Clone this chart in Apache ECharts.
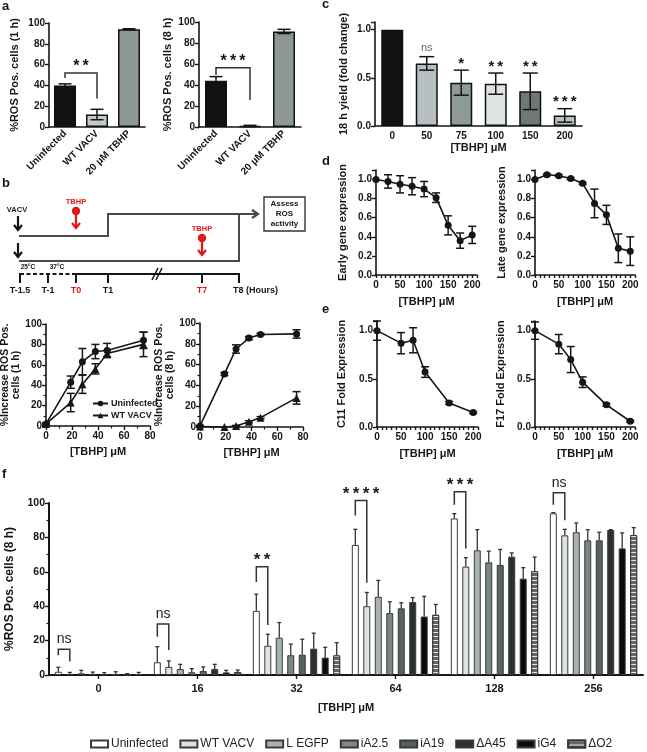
<!DOCTYPE html>
<html>
<head>
<meta charset="utf-8">
<script src="https://cdn.jsdelivr.net/npm/echarts@6/dist/echarts.min.js"></script>
<style>
  html, body { margin: 0; padding: 0; background: #fff; }
  #fig { width: 647px; height: 752px; }
</style>
</head>
<body>
<div id="fig"></div>
<script>
// ---- panel a: ROS positive cells at 1 h / 8 h ----
const aCats = ['Uninfected', 'WT VACV', '20 μM TBHP']
const a1Vals = [40, 12, 94]
const a1Err = [1.5, 5, 0.5]
const a2Vals = [44, 1, 91]
const a2Err = [4, 0.6, 2]
const aColors = ['#111111', '#c3cbcd', '#8d9896']
// bracket rows: [left cat, right cat, top, left leg end, right leg end]
const a1Bracket = [[0, 1, 52, 47, 27.5]]
const a2Bracket = [[0, 1, 56.5, 49.5, 25.7]]
const a1Sig = ['**']
const a2Sig = ['***']

// ---- panel c: 18 h yield ----
const cCats = ['0', '50', '75', '100', '150', '200']
const cVals = [1.0, 0.65, 0.45, 0.44, 0.36, 0.11]
const cErr = [0, 0.07, 0.13, 0.11, 0.19, 0.07]
const cSig = ['', 'ns', '*', '**', '**', '***']
const cColors = ['#111111', '#b6c0c4', '#8e9a98', '#dee4e4', '#6e7977', '#b7c2c7']

// ---- panel b: % increase ROS vs dose ----
const bDose = [0, 19, 28, 38, 47, 75]
const b1Uninf = [2, 43, 63, 73, 74, 84]
const b1UninfErr = [1, 6, 13, 7, 7, 8]
const b1Wt = [2, 23, 41, 56, 71, 80]
const b1WtErr = [1, 9, 9, 5, 3, 12]
const b8Uninf = [1, 51, 75, 85.5, 89, 89.5]
const b8UninfErr = [0.5, 1.5, 4, 1.5, 1, 4]
const b8Wt = [0.5, 0, 1, 5, 9, 28]
const b8WtErr = [0, 0, 0.5, 1, 1, 6]

// ---- panel d: early / late gene expression ----
const dDose = [0, 25, 50, 75, 100, 125, 150, 175, 200]
const dEarly = [1.0, 0.98, 0.95, 0.93, 0.90, 0.81, 0.52, 0.36, 0.42]
const dEarlyErr = [0, 0.07, 0.09, 0.09, 0.08, 0.05, 0.1, 0.08, 0.09]
const dLate = [1.0, 1.05, 1.04, 1.01, 0.96, 0.75, 0.63, 0.28, 0.25]
const dLateErr = [0, 0.01, 0.01, 0.01, 0.01, 0.15, 0.1, 0.15, 0.15]

// ---- panel e: C11 / F17 fold expression ----
const eDose = [0, 50, 75, 100, 150, 200]
const eC11 = [1.0, 0.87, 0.9, 0.57, 0.25, 0.15]
const eC11Err = [0.1, 0.11, 0.13, 0.055, 0.015, 0.01]
const eF17 = [1.0, 0.86, 0.7, 0.465, 0.23, 0.06]
const eF17Err = [0.09, 0.1, 0.135, 0.055, 0.015, 0.01]

// ---- panel f: ROS positive cells at 8 h per virus ----
const fCats = ['0', '16', '32', '64', '128', '256']
const fNames = ['Uninfected', 'WT VACV', 'L EGFP', 'iA2.5', 'iA19', 'ΔA45', 'iG4', 'ΔO2']
const fVals = [
  [1.9, 7.4, 37.3, 75.6, 91, 94],
  [0.5, 4.7, 17, 40, 63, 81.2],
  [1, 3.5, 21.7, 45.5, 72.5, 83],
  [0.6, 1.6, 11.5, 36, 65.5, 78.3],
  [0.4, 2.3, 11.8, 38.8, 64, 78.3],
  [0.3, 3.5, 15.3, 42.4, 68.8, 84.3],
  [0.2, 1.5, 10.1, 34, 56, 73.6],
  [0.5, 1.7, 11.4, 35, 60.3, 81.4]
]
const fErr = [
  [2.6, 9.1, 9.7, 9.1, 2.8, 0.4],
  [1, 3.5, 6.7, 8, 5.2, 3.5],
  [1.7, 2.7, 8.8, 9.5, 12, 5.4],
  [1.1, 2.1, 6.5, 6.6, 6.5, 6.2],
  [1, 2.4, 9, 3.2, 9, 4.7],
  [1.6, 2.7, 9, 2.6, 2.2, 0.2],
  [0.6, 1.2, 6, 11.7, 6.4, 9],
  [1, 1.2, 7.4, 6, 8.3, 4.3]
]
const fColors = ['#ffffff', '#dde3e3', '#a7b2b4', '#7b8786', '#586361', '#2b3131', '#0b0b0b', '#5d6867']
// [cat, cat, top, uninfected leg end, WT leg end]
const fBrackets = [
  [0, 0, 15, 11.5, 7.8],
  [1, 1, 29.7, 22.3, 14.6],
  [2, 2, 63, 54, 29],
  [3, 3, 101.5, 92.8, 53.7],
  [4, 4, 106.6, 99, 73.6],
  [5, 5, 106, 99, 90]
]
const fSig = ['ns', 'ns', '**', '****', '***', 'ns']

// ---- styling helpers ----
const FONT = '"Liberation Sans", Arial, Helvetica, sans-serif'
const INK = '#161616'
const RED = '#e3161b'
const W = 7
const GAP = 0.64
const PITCH = W * (1 + GAP)
const SPAN = PITCH * fNames.length - W * GAP
function barCenter(i) { return -SPAN / 2 + i * PITCH + W / 2 }

function stars(s) { return s.indexOf('*') >= 0 ? s.split('').join('\u2009') : s }
function stepFmt(step, digits) {
  return v => Math.abs(v / step - Math.round(v / step)) < 1e-6 ? v.toFixed(digits) : ''
}
function axLine() { return { show: true, lineStyle: { color: INK, width: 1.6 } } }
function axTick(len) { return { show: true, length: len || 4, lineStyle: { color: INK, width: 1.4 } } }
function lab(size, extra) {
  return Object.assign({ color: INK, fontFamily: FONT, fontWeight: 'bold', fontSize: size || 10, margin: 4 }, extra || {})
}
function nameTS(size, lh) {
  return { color: INK, fontFamily: FONT, fontWeight: 'bold', fontSize: size || 11, lineHeight: lh || 13 }
}

function valAx(grid, min, max, step, label, name, gap, more) {
  return Object.assign({
    type: 'value', gridIndex: grid, min: min, max: max, interval: step,
    splitLine: { show: false }, axisLine: axLine(), axisTick: axTick(4),
    axisLabel: label, name: name, nameLocation: 'middle', nameGap: gap, nameTextStyle: nameTS(11)
  }, more || {})
}
function catAx(grid, cats, label, name, gap, more) {
  return Object.assign({
    type: 'category', gridIndex: grid, data: cats,
    axisLine: axLine(), axisTick: { show: false }, axisLabel: label,
    name: name, nameLocation: 'middle', nameGap: gap, nameTextStyle: nameTS(11)
  }, more || {})
}

function errorBars(axis, rows, cap, opts) {
  opts = opts || {}
  return {
    type: 'custom', xAxisIndex: axis, yAxisIndex: axis, clip: false, silent: true, z: opts.z || 5,
    data: rows, encode: { x: 0, y: 1 },
    renderItem(params, api) {
      const x = api.value(0), y = api.value(1), e = api.value(2)
      const kids = []
      const top = api.coord([x, y + e]), bot = api.coord([x, opts.up ? y : y - e])
      const cx = top[0] + (opts.offset || 0)
      const st = { stroke: opts.color || INK, lineWidth: opts.width || 1.5 }
      if (e > 0) {
        kids.push({ type: 'line', shape: { x1: cx, y1: top[1], x2: cx, y2: bot[1] }, style: st })
        kids.push({ type: 'line', shape: { x1: cx - cap / 2, y1: top[1], x2: cx + cap / 2, y2: top[1] }, style: st })
        if (!opts.up) kids.push({ type: 'line', shape: { x1: cx - cap / 2, y1: bot[1], x2: cx + cap / 2, y2: bot[1] }, style: st })
      }
      const t = opts.labels ? opts.labels[params.dataIndex] : ''
      if (t) {
        const isNs = t === 'ns'
        kids.push({
          type: 'text', x: cx, y: top[1] - (isNs ? 3 : -1),
          style: {
            text: stars(t), align: 'center', verticalAlign: 'bottom', fontFamily: FONT,
            fontSize: isNs ? 11 : 15, fontWeight: isNs ? 'normal' : 'bold', fill: isNs ? '#666' : INK
          }
        })
      }
      return { type: 'group', children: kids }
    }
  }
}

function brackets(axis, rows, labels, opts) {
  opts = opts || {}
  return {
    type: 'custom', xAxisIndex: axis, yAxisIndex: axis, clip: false, silent: true, z: 6,
    data: rows, encode: { x: 0, y: 2 },
    renderItem(params, api) {
      const a = api.coord([api.value(0), api.value(2)])
      const b = api.coord([api.value(1), api.value(2)])
      const xl = a[0] + (opts.offL || 0), xr = b[0] + (opts.offR || 0)
      const yl = api.coord([api.value(0), api.value(3)])[1]
      const yr = api.coord([api.value(1), api.value(4)])[1]
      const t = labels[params.dataIndex]
      const isNs = t === 'ns'
      return {
        type: 'group', children: [
          { type: 'polyline', shape: { points: [[xl, yl], [xl, a[1]], [xr, a[1]], [xr, yr]] },
            style: { stroke: '#333', lineWidth: 1.5, fill: null } },
          { type: 'text', x: (xl + xr) / 2, y: a[1] - (isNs ? 3 : -2),
            style: { text: stars(t), align: 'center', verticalAlign: 'bottom', fontFamily: FONT,
              fontSize: isNs ? (opts.nsSize || 14) : (opts.starSize || 16),
              fontWeight: isNs ? 'normal' : 'bold', fill: '#1a1a1a' } }
        ]
      }
    }
  }
}

function rows(xs, ys, es) { return xs.map((x, i) => [x, ys[i], es[i]]) }
function pts(xs, ys) { return xs.map((x, i) => [x, ys[i]]) }
function lineSeries(axis, name, data, symbol) {
  return {
    type: 'line', name: name, xAxisIndex: axis, yAxisIndex: axis, data: data,
    symbol: symbol || 'circle', symbolSize: symbol === 'triangle' ? 8 : 7,
    itemStyle: { color: INK }, lineStyle: { color: INK, width: 1.6 }, z: 4, clip: false
  }
}

// ---- grids ----
const grids = [
  { left: 49, top: 23, width: 96, height: 104 },   // 0 a 1 h
  { left: 199, top: 22, width: 102, height: 105 },  // 1 a 8 h
  { left: 375, top: 22, width: 207, height: 104 },  // 2 c
  { left: 46, top: 324, width: 104, height: 102 },  // 3 b 1 h
  { left: 200, top: 323, width: 103, height: 104 }, // 4 b 8 h
  { left: 376, top: 170, width: 101, height: 105 }, // 5 d early
  { left: 535, top: 170, width: 100, height: 105 }, // 6 d late
  { left: 377, top: 321, width: 101, height: 106 }, // 7 e C11
  { left: 535, top: 321, width: 100, height: 106 }, // 8 e F17
  { left: 49, top: 503, width: 594, height: 172 }   // 9 f
].map(g => Object.assign({ outerBoundsMode: 'none', containLabel: false }, g))

const doseX = (grid) => valAx(grid, 0, 210, 10, lab(10, { margin: 5, formatter: stepFmt(50, 0) }),
  '[TBHP] μM', 20, { axisTick: axTick(3) })
const minor2 = { show: true, splitNumber: 2, length: 2.5, lineStyle: { color: INK, width: 1.2 } }

const xAxis = [
  catAx(0, aCats, lab(10, { rotate: 45, interval: 0, margin: 5 }), '', 0),
  catAx(1, aCats, lab(10, { rotate: 45, interval: 0, margin: 5 }), '', 0),
  catAx(2, cCats, lab(10, { margin: 5 }), '[TBHP] μM', 15),
  valAx(3, 0, 80, 20, lab(10, { margin: 5 }), '[TBHP] μM', 19, { minorTick: minor2 }),
  valAx(4, 0, 80, 20, lab(10, { margin: 5 }), '[TBHP] μM', 19, { minorTick: minor2 }),
  doseX(5), doseX(6), doseX(7), doseX(8),
  catAx(9, fCats, lab(11, { margin: 8 }), '[TBHP] μM', 26,
    { axisTick: { show: true, alignWithLabel: true, length: 4, lineStyle: { color: INK, width: 1.4 } },
      axisLine: { show: true, lineStyle: { color: INK, width: 2 } } })
]

const yAxis = [
  valAx(0, 0, 100, 20, lab(10), '%ROS Pos. cells (1 h)', 28),
  valAx(1, 0, 100, 20, lab(10), '%ROS Pos. cells (8 h)', 24),
  valAx(2, 0, 1.08, 0.5, lab(10, { formatter: stepFmt(0.5, 1) }), '18 h yield (fold change)', 25),
  valAx(3, 0, 100, 20, lab(10), '%Increase ROS Pos.\ncells (1 h)', 13, { minorTick: minor2, nameTextStyle: nameTS(10.5, 11) }),
  valAx(4, 0, 100, 20, lab(10), '%Increase ROS Pos.\ncells (8 h)', 9, { minorTick: minor2, nameTextStyle: nameTS(10.5, 11) }),
  valAx(5, 0, 1.1, 0.2, lab(10, { formatter: stepFmt(0.2, 1) }), 'Early gene expression', 27),
  valAx(6, 0, 1.1, 0.2, lab(10, { formatter: stepFmt(0.2, 1) }), 'Late gene expression', 27),
  valAx(7, 0, 1.1, 0.5, lab(10, { formatter: stepFmt(0.5, 1) }), 'C11 Fold Expression', 29),
  valAx(8, 0, 1.1, 0.5, lab(10, { formatter: stepFmt(0.5, 1) }), 'F17 Fold Expression', 28),
  valAx(9, 0, 100, 20, lab(10.5), '%ROS Pos. cells (8 h)', 29,
    { minorTick: minor2, nameTextStyle: nameTS(12), axisLine: { show: true, lineStyle: { color: INK, width: 2 } } })
]

function coloredBars(axis, vals, colors, width) {
  return {
    type: 'bar', xAxisIndex: axis, yAxisIndex: axis, barWidth: width,
    data: vals.map((v, i) => ({ value: v, itemStyle: { color: colors[i] } })),
    itemStyle: { borderColor: '#111', borderWidth: 1.5 }
  }
}

const series = [
  coloredBars(0, a1Vals, aColors, 22),
  errorBars(0, rows([0, 1, 2], a1Vals, a1Err), 13),
  brackets(0, a1Bracket, a1Sig, { starSize: 16 }),
  coloredBars(1, a2Vals, aColors, 22),
  errorBars(1, rows([0, 1, 2], a2Vals, a2Err), 13),
  brackets(1, a2Bracket, a2Sig, { starSize: 16 }),
  coloredBars(2, cVals, cColors, 22),
  errorBars(2, rows([0, 1, 2, 3, 4, 5], cVals, cErr), 15, { labels: cSig }),

  errorBars(3, rows(bDose, b1Uninf, b1UninfErr), 8),
  errorBars(3, rows(bDose, b1Wt, b1WtErr), 8),
  lineSeries(3, 'b1-Uninfected', pts(bDose, b1Uninf)),
  lineSeries(3, 'b1-WT VACV', pts(bDose, b1Wt), 'triangle'),
  errorBars(4, rows(bDose, b8Uninf, b8UninfErr), 8),
  errorBars(4, rows(bDose, b8Wt, b8WtErr), 8),
  lineSeries(4, 'b8-Uninfected', pts(bDose, b8Uninf)),
  lineSeries(4, 'b8-WT VACV', pts(bDose, b8Wt), 'triangle'),

  errorBars(5, rows(dDose, dEarly, dEarlyErr), 8),
  lineSeries(5, 'early', pts(dDose, dEarly)),
  errorBars(6, rows(dDose, dLate, dLateErr), 8),
  lineSeries(6, 'late', pts(dDose, dLate)),
  errorBars(7, rows(eDose, eC11, eC11Err), 8),
  lineSeries(7, 'C11', pts(eDose, eC11)),
  errorBars(8, rows(eDose, eF17, eF17Err), 8),
  lineSeries(8, 'F17', pts(eDose, eF17))
]

fNames.forEach((name, i) => {
  const item = { color: fColors[i], borderColor: '#3a3a3a', borderWidth: 1 }
  if (name === 'ΔO2') {
    item.decal = { symbol: 'rect', symbolSize: 1, dashArrayX: [1, 0], dashArrayY: [1, 3], color: 'rgba(255,255,255,0.85)' }
  }
  series.push({
    type: 'bar', name: name, xAxisIndex: 9, yAxisIndex: 9, barWidth: W, barGap: (GAP * 100) + '%',
    data: fVals[i], itemStyle: item
  })
})
fNames.forEach((name, i) => {
  series.push(errorBars(9, rows([0, 1, 2, 3, 4, 5], fVals[i], fErr[i]), 4,
    { up: true, offset: barCenter(i), color: '#333', width: 1.3 }))
})
series.push(brackets(9, fBrackets, fSig, { offL: barCenter(0), offR: barCenter(1), nsSize: 14, starSize: 17 }))

// ---- schematic of panel b and panel letters ----
function txt(x, y, s, size, opts) {
  opts = opts || {}
  return {
    type: 'text', x: x, y: y, silent: true,
    style: {
      text: s, fontFamily: FONT, fontWeight: opts.weight || 'bold', fontSize: size,
      fill: opts.color || INK, align: opts.align || 'center', verticalAlign: opts.va || 'middle',
      lineHeight: opts.lh
    }
  }
}
function seg(pts, color, width, dash) {
  return { type: 'polyline', silent: true, shape: { points: pts },
    style: { stroke: color || INK, lineWidth: width || 2, fill: null, lineDash: dash } }
}
function downArrow(x, y1, y2, color) {
  return [seg([[x, y1], [x, y2]], color, 2.2), seg([[x - 4, y2 - 5], [x, y2], [x + 4, y2 - 5]], color, 2.2)]
}
function redDrop(x, yLabel) {
  return [
    txt(x, yLabel, 'TBHP', 7.5, { color: RED }),
    { type: 'circle', silent: true, shape: { cx: x, cy: yLabel + 9, r: 4.2 }, style: { fill: RED } },
    ...downArrow(x, yLabel + 10, yLabel + 26, RED)
  ]
}

const GREY = '#4a4a4a'
const graphic = [
  txt(2, 13, 'a', 13, { align: 'left', va: 'bottom' }),
  txt(2, 190, 'b', 13, { align: 'left', va: 'bottom' }),
  txt(322, 11, 'c', 13, { align: 'left', va: 'bottom' }),
  txt(322, 168, 'd', 13, { align: 'left', va: 'bottom' }),
  txt(322, 316, 'e', 13, { align: 'left', va: 'bottom' }),
  txt(2, 481, 'f', 13, { align: 'left', va: 'bottom' }),

  txt(17, 210, 'VACV', 7.5),
  ...downArrow(18, 216, 230),
  ...downArrow(18, 243, 257),
  seg([[19, 236], [108, 236], [108, 214], [258, 214]], GREY, 2),
  seg([[252, 210], [258, 214], [252, 218]], GREY, 2.2),
  seg([[19, 261], [239, 261], [239, 213]], GREY, 2),
  ...redDrop(76, 202),
  ...redDrop(202, 229),
  { type: 'rect', silent: true, shape: { x: 264, y: 197, width: 41, height: 34 }, style: { fill: '#fff', stroke: '#333', lineWidth: 1.4 } },
  txt(284.5, 214, 'Assess\nROS\nactivity', 8, { lh: 10 }),

  seg([[20, 274], [76, 274]], INK, 1.8, [4, 2.5]),
  seg([[76, 274], [239, 274]], INK, 1.8),
  ...[20, 48, 76, 108, 202, 239].map(x => seg([[x, 273], [x, 283]], INK, 2)),
  seg([[152, 280], [158, 268]], INK, 1.6),
  seg([[156, 280], [162, 268]], INK, 1.6),
  txt(28, 267, '25°C', 6.5),
  txt(57, 267, '37°C', 6.5),
  txt(20, 291, 'T-1.5', 9),
  txt(48, 291, 'T-1', 9),
  txt(76, 291, 'T0', 9, { color: RED }),
  txt(108, 291, 'T1', 9),
  txt(202, 291, 'T7', 9, { color: RED }),
  txt(233, 291, 'T8 (Hours)', 9, { align: 'left' })
]

const option = {
  animation: false,
  backgroundColor: '#ffffff',
  textStyle: { fontFamily: FONT },
  grid: grids,
  xAxis: xAxis,
  yAxis: yAxis,
  legend: [
    {
      data: fNames, left: 85, top: 733, itemWidth: 17, itemHeight: 7, itemGap: 11,
      icon: 'rect', selectedMode: false,
      textStyle: { fontFamily: FONT, fontSize: 12, color: '#222', padding: [0, 0, 0, -2] }
    },
    {
      data: ['b1-Uninfected', 'b1-WT VACV'], left: 87, top: 394, orient: 'vertical',
      itemWidth: 15, itemHeight: 7, itemGap: 3, selectedMode: false,
      formatter: n => n.replace('b1-', ''),
      textStyle: { fontFamily: FONT, fontSize: 9, fontWeight: 'bold', color: INK, padding: [0, 0, 0, -2] }
    }
  ],
  series: series,
  graphic: graphic
}

const chart = echarts.init(document.getElementById('fig'), null, { renderer: 'canvas' })
chart.setOption(option)
</script>
</body>
</html>
